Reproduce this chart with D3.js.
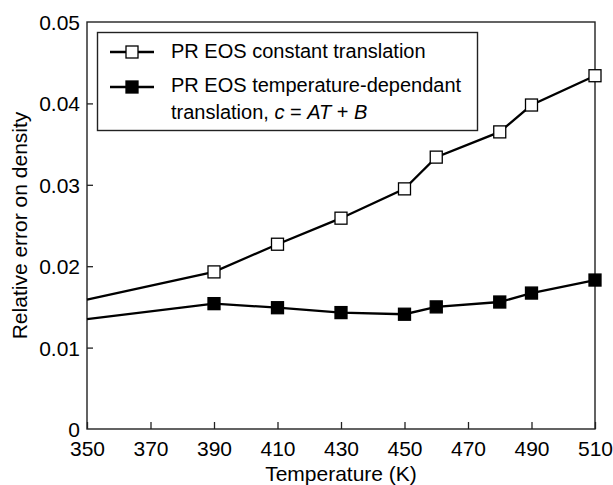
<!DOCTYPE html>
<html lang="en">
<head>
	<meta charset="UTF-8" />
	<script src="https://d3js.org/d3.v7.min.js"></script>
	<style>
		body { margin: 0; background: #fff; }
		text { font-family: "Liberation Sans", Arial, sans-serif; fill: #000; }
	</style>
</head>
<body>
	<svg width="613" height="485"></svg>
	<script>
		// data
		var temps = [350, 390, 410, 430, 450, 460, 480, 490, 510];
		var constErr = [0.0159, 0.0193, 0.0227, 0.0259, 0.0295, 0.0334, 0.0365, 0.0398, 0.0434];
		var tempDepErr = [0.0135, 0.0154, 0.0149, 0.0143, 0.0141, 0.0150, 0.0156, 0.0167, 0.0183];
		// the first point is where the curve enters the frame, no marker there
		var hasMarker = [false, true, true, true, true, true, true, true, true];

		var xTicks = [350, 370, 390, 410, 430, 450, 470, 490, 510];
		var yTicks = [0, 0.01, 0.02, 0.03, 0.04, 0.05];
		var yTickLabels = ["0", "0.01", "0.02", "0.03", "0.04", "0.05"];

		var plotLeft = 87, plotRight = 595, plotTop = 22, plotBottom = 429;

		var svg = d3.select("svg");

		var x = d3.scaleLinear().domain([350, 510]).range([plotLeft, plotRight]);
		var y = d3.scaleLinear().domain([0, 0.05]).range([plotBottom, plotTop]);

		// x axis, ticks pointing inward
		var xAxis = svg.append("g")
			.attr("transform", "translate(0," + plotBottom + ")")
			.call(d3.axisBottom(x).tickValues(xTicks).tickSize(-7).tickFormat(d3.format("d")));
		xAxis.select(".domain").remove();
		xAxis.selectAll("line").attr("stroke", "#222").attr("stroke-width", 1.3);
		xAxis.selectAll("text")
			.attr("y", 27).attr("dy", 0)
			.style("font-size", "21px")
			.style("font-family", "'Liberation Sans', Arial, sans-serif");

		// y axis, ticks pointing inward
		var yAxis = svg.append("g")
			.attr("transform", "translate(" + plotLeft + ",0)")
			.call(d3.axisLeft(y).tickValues(yTicks).tickSize(-6)
				.tickFormat(function(d, i) { return yTickLabels[i]; }));
		yAxis.select(".domain").remove();
		yAxis.selectAll("line").attr("stroke", "#222").attr("stroke-width", 1.3);
		yAxis.selectAll(".tick").filter(function(d) { return d == 0 || d == 0.05; })
			.select("line").remove();
		yAxis.selectAll("text")
			.attr("x", -7).attr("dy", "0.36em")
			.style("font-size", "21px")
			.style("font-family", "'Liberation Sans', Arial, sans-serif");

		// frame
		svg.append("rect")
			.attr("x", x(350)).attr("y", y(0.05))
			.attr("width", x(510) - x(350)).attr("height", y(0) - y(0.05))
			.attr("fill", "none").attr("stroke", "#222").attr("stroke-width", 1.4);

		// axis titles
		svg.append("text")
			.attr("x", (plotLeft + plotRight) / 2).attr("y", 481)
			.attr("text-anchor", "middle")
			.style("font-size", "21px")
			.text("Temperature (K)");

		svg.append("text")
			.attr("transform", "translate(27," + (plotTop + plotBottom) / 2 + ") rotate(-90)")
			.attr("text-anchor", "middle")
			.style("font-size", "21px")
			.text("Relative error on density");

		var line = d3.line()
			.x(function(d) { return x(d[0]); })
			.y(function(d) { return y(d[1]); });

		var series = [
			{ values: constErr, fill: "#fff" },
			{ values: tempDepErr, fill: "#000" }
		];

		series.forEach(function(s) {
			var pts = temps.map(function(t, i) { return [t, s.values[i], hasMarker[i]]; });
			svg.append("path")
				.datum(pts)
				.attr("d", line)
				.attr("fill", "none")
				.attr("stroke", "#000")
				.attr("stroke-width", 2.3);
			svg.append("g").selectAll("rect")
				.data(pts.filter(function(d) { return d[2]; }))
				.enter().append("rect")
				.attr("x", function(d) { return x(d[0]) - 6; })
				.attr("y", function(d) { return y(d[1]) - 6; })
				.attr("width", 12).attr("height", 12)
				.attr("fill", s.fill)
				.attr("stroke", "#000")
				.attr("stroke-width", 1.3);
		});

		// legend
		var lg = svg.append("g");
		lg.append("rect")
			.attr("x", 97.5).attr("y", 32.5).attr("width", 380).attr("height", 98)
			.attr("fill", "#fff").attr("stroke", "#222").attr("stroke-width", 1.4);

		var legendRows = [
			{ y: 52, fill: "#fff" },
			{ y: 87, fill: "#000" }
		];
		legendRows.forEach(function(r) {
			lg.append("line")
				.attr("x1", 110).attr("x2", 154).attr("y1", r.y).attr("y2", r.y)
				.attr("stroke", "#000").attr("stroke-width", 2.3);
			lg.append("rect")
				.attr("x", 126).attr("y", r.y - 6).attr("width", 12).attr("height", 12)
				.attr("fill", r.fill).attr("stroke", "#000").attr("stroke-width", 1.3);
		});

		lg.append("text")
			.attr("x", 171).attr("y", 58)
			.style("font-size", "20px")
			.text("PR EOS constant translation");

		lg.append("text")
			.attr("x", 171).attr("y", 92)
			.style("font-size", "20px")
			.text("PR EOS temperature-dependant");

		var t2 = lg.append("text")
			.attr("x", 171).attr("y", 118.5)
			.style("font-size", "20px");
		t2.append("tspan").text("translation, ");
		t2.append("tspan").style("font-style", "italic").text("c");
		t2.append("tspan").text(" = ");
		t2.append("tspan").style("font-style", "italic").text("AT");
		t2.append("tspan").text(" + ");
		t2.append("tspan").style("font-style", "italic").text("B");
	</script>
</body>
</html>
